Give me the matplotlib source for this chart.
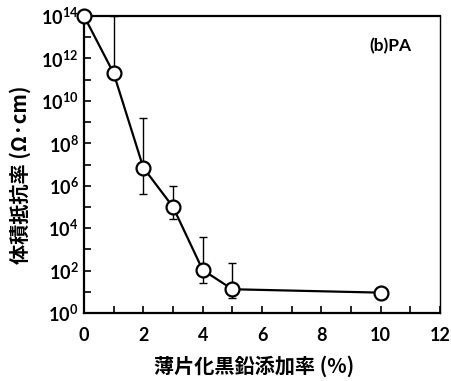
import matplotlib
matplotlib.use("Agg")
import matplotlib.pyplot as plt
from matplotlib.ticker import FixedLocator, MultipleLocator
import numpy as np

plt.rcParams['font.family'] = ['Lato', 'Noto Sans CJK JP', 'DejaVu Sans']
plt.rcParams['mathtext.fontset'] = 'custom'
plt.rcParams['mathtext.rm'] = 'Lato:bold'

x = [0, 1, 2, 3, 4, 5, 10]
log_y = [14.0, 11.3, 6.85, 5.0, 2.03, 1.12, 0.96]
log_err_up = [0.0, 14.0, 9.2, 6.0, 3.57, 2.34, 0.96]
log_err_lo = [14.0, 11.3, 5.6, 4.43, 1.4, 0.69, 0.96]
xticks = [0, 2, 4, 6, 8, 10, 12]
yexp = [0, 2, 4, 6, 8, 10, 12, 14]

y = np.power(10.0, log_y)
up = np.clip(np.power(10.0, log_err_up) - y, 0, None)
lo = np.clip(y - np.power(10.0, log_err_lo), 0, None)

fig = plt.figure(figsize=(4.51, 3.81), dpi=100)
ax = fig.add_axes([84/451, 1 - 313/381, (440-84)/451, (313-16)/381])

ax.errorbar(x, y, yerr=[lo, up], fmt='none', ecolor='black', elinewidth=1.0,
            capsize=3, capthick=1.0, zorder=2)
ax.plot(x, y, '-', color='black', lw=1.6, marker='o', markersize=10,
        markerfacecolor='white', markeredgecolor='black', markeredgewidth=1.6,
        zorder=3, clip_on=False)

ax.set_yscale('log')
ax.set_ylim(1, 1e14)
ax.set_xlim(0, 12)
ax.yaxis.set_major_locator(FixedLocator([10.0**e for e in yexp]))
ax.yaxis.set_minor_locator(FixedLocator([10.0**e for e in range(1, 14, 2)]))
ax.set_yticklabels([r'$\mathregular{10^{%d}}$' % e for e in yexp])
ax.xaxis.set_major_locator(FixedLocator(xticks))
ax.xaxis.set_minor_locator(MultipleLocator(1))
ax.set_xticklabels([str(t) for t in xticks])

ax.tick_params(which='both', direction='in', length=5, width=1.2, labelsize=13)
ax.tick_params(axis='x', which='both', pad=10)
ax.tick_params(axis='y', which='both', pad=4)
ax.tick_params(axis='y', which='minor', labelleft=False)
for lab in ax.get_xticklabels() + ax.get_yticklabels():
    lab.set_fontweight('bold')

for s in ['left', 'bottom', 'top']:
    ax.spines[s].set_linewidth(1.6)
ax.spines['right'].set_linewidth(1.0)

ax.set_xlabel('薄片化黒鉛添加率 (%)', fontsize=14.5, fontweight='bold',
              family=['Noto Sans CJK JP', 'DejaVu Sans'])
ax.xaxis.set_label_coords((254-84)/356, (313-355)/297)
ax.set_ylabel('体積抵抗率 (Ω·cm)', fontsize=14.5, fontweight='bold',
              family=['Noto Sans CJK JP', 'DejaVu Sans'])
ax.yaxis.set_label_coords((31-84)/356, (313-175)/297)
ax.text(0.92, 0.90, '(b)PA', transform=ax.transAxes, ha='right', va='center',
        fontsize=12.5, fontweight='bold')

fig.savefig('out.png', dpi=100)
